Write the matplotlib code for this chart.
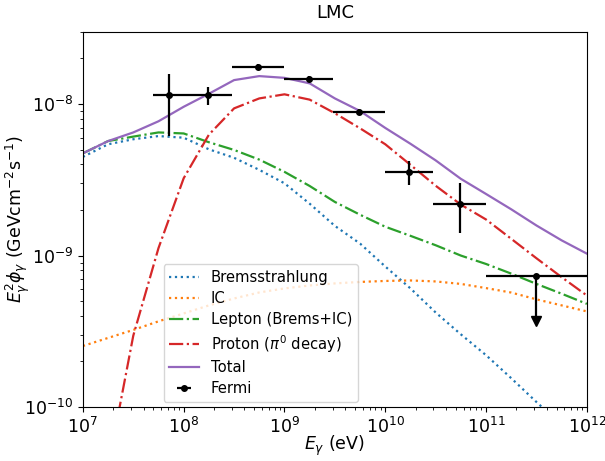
import numpy as np
import matplotlib
matplotlib.use("Agg")
from matplotlib import pyplot as plt

# model energy grid (eV), 0.25 dex steps
energy = 10 ** np.arange(7, 12.01, 0.25)

brems = [4.48e-9, 5.43e-9, 5.86e-9, 6.15e-9, 6.0e-9, 5.03e-9, 4.42e-9, 3.68e-9, 3.0e-9,
         2.2e-9, 1.57e-9, 1.2e-9, 8.47e-10, 6.07e-10, 4.21e-10, 3.02e-10, 2.2e-10,
         1.55e-10, 1.08e-10, 7.6e-11, 5.4e-11]
ic = [2.53e-10, 2.86e-10, 3.23e-10, 3.68e-10, 4.15e-10, 4.69e-10, 5.21e-10, 5.71e-10,
      6.07e-10, 6.35e-10, 6.55e-10, 6.7e-10, 6.8e-10, 6.85e-10, 6.75e-10, 6.5e-10,
      6.1e-10, 5.7e-10, 5.14e-10, 4.69e-10, 4.28e-10]
lepton = [4.73e-9, 5.7e-9, 6.1e-9, 6.5e-9, 6.4e-9, 5.6e-9, 4.98e-9, 4.3e-9, 3.57e-9,
          2.88e-9, 2.26e-9, 1.86e-9, 1.55e-9, 1.35e-9, 1.17e-9, 1.0e-9, 8.8e-10,
          7.6e-10, 6.5e-10, 5.6e-10, 4.8e-10]
proton = [1e-13, 4e-11, 2.96e-10, 1.12e-9, 3.24e-9, 6.28e-9, 9.37e-9, 1.09e-8, 1.16e-8,
          1.07e-8, 8.7e-9, 6.92e-9, 5.43e-9, 3.97e-9, 2.89e-9, 2.17e-9, 1.73e-9,
          1.29e-9, 9.6e-10, 7.2e-10, 5.45e-10]
total = [4.73e-9, 5.7e-9, 6.5e-9, 7.7e-9, 9.6e-9, 1.17e-8, 1.44e-8, 1.53e-8, 1.49e-8,
         1.37e-8, 1.09e-8, 9.0e-9, 6.96e-9, 5.47e-9, 4.25e-9, 3.21e-9, 2.55e-9,
         2.02e-9, 1.58e-9, 1.26e-9, 1.03e-9]

# Fermi data points
fermi_lo = [5e7, 1e8, 3e8, 1e9, 3e9, 1e10, 3e10]
fermi_hi = [1e8, 3e8, 1e9, 3e9, 1e10, 3e10, 1e11]
fermi_y = [1.14e-8, 1.14e-8, 1.75e-8, 1.47e-8, 8.9e-9, 3.57e-9, 2.19e-9]
fermi_ylo = [6.16e-9, 9.8e-9, 1.67e-8, 1.40e-8, 8.5e-9, 2.92e-9, 1.40e-9]
fermi_yhi = [1.58e-8, 1.29e-8, 1.83e-8, 1.54e-8, 9.3e-9, 4.22e-9, 3.0e-9]

# upper limit bin
ul_lo, ul_hi = 1e11, 1e12
ul_y = 7.3e-10
ul_end = 3.7e-10

fig = plt.figure(figsize=(6.05, 4.61), dpi=100)
ax = fig.add_axes([0.137, 0.117, 0.833, 0.814])

ax.plot(energy, brems, ':', color='tab:blue', lw=1.6, label='Bremsstrahlung')
ax.plot(energy, ic, ':', color='tab:orange', lw=1.6, label='IC')
ax.plot(energy, lepton, '-.', color='tab:green', lw=1.6, label='Lepton (Brems+IC)')
ax.plot(energy, proton, '-.', color='tab:red', lw=1.6, label=r'Proton ($\pi^0$ decay)')
ax.plot(energy, total, '-', color='tab:purple', lw=1.6, label='Total')

fx = np.sqrt(np.array(fermi_lo) * np.array(fermi_hi))
fy = np.array(fermi_y)
xerr = [fx - np.array(fermi_lo), np.array(fermi_hi) - fx]
yerr = [fy - np.array(fermi_ylo), np.array(fermi_yhi) - fy]
ax.errorbar(fx, fy, yerr=yerr, fmt='none', ecolor='k', elinewidth=1.6)
ax.errorbar(fx, fy, xerr=xerr, fmt='o', color='k', ms=4, elinewidth=1.6, label='Fermi')

# upper limit
ux = np.sqrt(ul_lo * ul_hi)
ax.errorbar([ux], [ul_y], xerr=[[ux - ul_lo], [ul_hi - ux]], fmt='o', color='k', ms=4,
            elinewidth=1.6)
ax.plot([ux, ux], [ul_y, ul_end], 'k-', lw=1.6)
ax.plot([ux], [ul_end], marker='v', color='k', ms=7, ls='none')

ax.set_xscale('log')
ax.set_yscale('log')
ax.set_xlim(1e7, 1e12)
ax.set_ylim(1e-10, 3e-8)
ax.tick_params(labelsize=12.5)
ax.set_xlabel(r'$E_\gamma$ (eV)', fontsize=12.5)
ax.set_ylabel(r'$E_\gamma^2\phi_\gamma$ (GeVcm$^{-2}$s$^{-1}$)', fontsize=12.5)
ax.xaxis.set_label_coords(0.5, -0.07)
ax.yaxis.set_label_coords(-0.1, 0.5)
ax.set_title('LMC', fontsize=13, pad=10)
ax.legend(loc='lower left', bbox_to_anchor=(0.16, 0.013), borderaxespad=0, fontsize=10.6,
          labelspacing=0.4)

fig.savefig('out.png', dpi=100)
